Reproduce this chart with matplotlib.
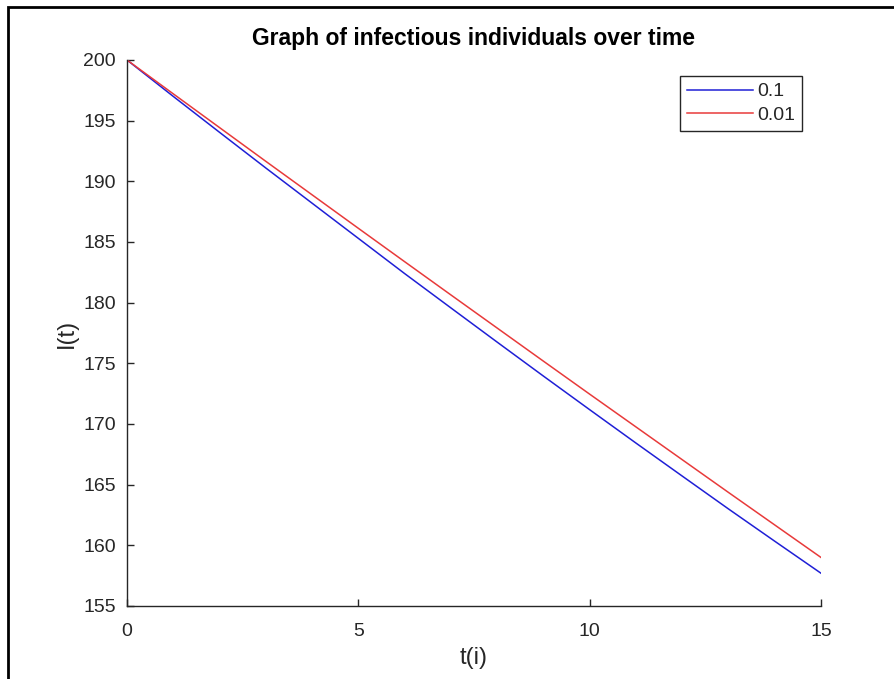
import numpy as np
import matplotlib.pyplot as plt
from matplotlib.patches import Rectangle

# values
t = [0, 1, 2, 3, 4, 5, 6, 7, 8, 9, 10, 11, 12, 13, 14, 15]
infected_01 = [200.0, 197.0, 194.04, 191.1, 188.2, 185.3, 182.4, 179.57,
               176.75, 173.95, 171.18, 168.43, 165.71, 163.0, 160.34, 157.7]
infected_001 = [200.0, 197.21, 194.43, 191.65, 188.89, 186.13, 183.38, 180.64,
                177.91, 175.18, 172.46, 169.76, 167.06, 164.36, 161.68, 159.0]
labels = ['0.1', '0.01']
x_ticks = [0, 5, 10, 15]
y_ticks = [155, 160, 165, 170, 175, 180, 185, 190, 195, 200]

plt.rcParams['font.family'] = ['Liberation Sans', 'DejaVu Sans']
grey = '#262626'

fig = plt.figure(figsize=(8.94, 6.79), dpi=100)
ax = fig.add_axes([127/894, 1 - 606/679, (821 - 127)/894, (606 - 60)/679])

ax.plot(t, infected_01, color='#1f1fd6', lw=1.1, label=labels[0])
ax.plot(t, infected_001, color='#e83a3a', lw=1.1, label=labels[1])

ax.set_xlim(0, 15)
ax.set_ylim(155, 200)
ax.set_xticks(x_ticks)
ax.set_yticks(y_ticks)
ax.spines['top'].set_visible(False)
ax.spines['right'].set_visible(False)
for s in ['left', 'bottom']:
    ax.spines[s].set_color(grey)
    ax.spines[s].set_linewidth(1.0)
ax.tick_params(direction='in', length=5, width=1.0, colors=grey,
               labelsize=14)
ax.tick_params(axis='x', pad=12)
ax.tick_params(axis='y', pad=8)

ax.set_xlabel('t(i)', fontsize=17, color=grey, labelpad=5)
ax.set_ylabel('I(t)', fontsize=17, color=grey, labelpad=4)
ax.set_title('Graph of infectious individuals over time', fontsize=16.5,
             fontweight='bold', color='black', pad=11)

leg = ax.legend(loc='upper right', bbox_to_anchor=(802/894, 1 - 76/679),
                bbox_transform=fig.transFigure, fontsize=14, fancybox=False,
                framealpha=1, edgecolor=grey, handlelength=3.4,
                handletextpad=0.2, borderpad=0.35, labelspacing=0.3,
                borderaxespad=0)
leg.get_frame().set_linewidth(1.0)
for txt in leg.get_texts():
    txt.set_color(grey)

# outer screenshot border
fig.patches.append(Rectangle((8/894, -0.05), 1.1, 1 - 7/679 + 0.05,
                             transform=fig.transFigure, fill=False,
                             edgecolor='black', lw=2))

plt.savefig('out.png', dpi=100)
